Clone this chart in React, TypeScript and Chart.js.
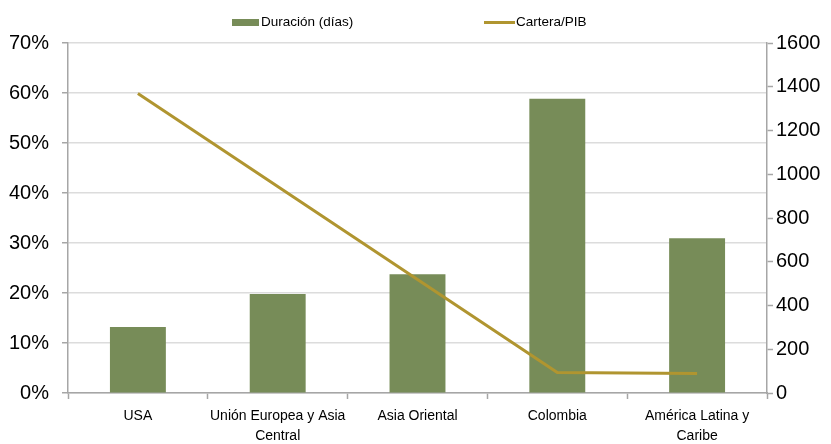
import React, { useEffect, useRef } from "react";
import { Chart, registerables } from "chart.js";

Chart.register(...registerables);

const categories: (string | string[])[] = [
  "USA",
  ["Unión Europea y Asia", "Central"],
  "Asia Oriental",
  "Colombia",
  ["América Latina y", "Caribe"],
];
const duracionDias: number[] = [302, 453, 543, 1345, 707];
const carteraPib: number[] = [59.9, 41.3, 22.7, 4.1, 3.9];
const leftTicksMax = 70;
const rightTicksMax = 1600;

const FONT = "'Liberation Sans Narrow', 'Arial Narrow', 'Liberation Sans', Arial, sans-serif";
const BAR_COLOR = "#778c58";
const LINE_COLOR = "#b09530";
const AXIS_COLOR = "#a6a6a6";
const GRID_COLOR = "#dcdcdc";

const legendPlugin = {
  id: "topLegend",
  afterDraw(chart: any) {
    const ctx = chart.ctx as CanvasRenderingContext2D;
    const ds = chart.data.datasets;
    ctx.save();
    ctx.font = `13.5px ${FONT}`;
    ctx.textBaseline = "middle";
    ctx.textAlign = "left";
    const y = 22.5;
    ctx.fillStyle = ds[0].backgroundColor;
    ctx.fillRect(232, y - 3.5, 27, 7);
    ctx.fillStyle = "#000";
    ctx.fillText(ds[0].label, 261, y);
    ctx.strokeStyle = ds[1].borderColor;
    ctx.lineWidth = 3;
    ctx.beginPath();
    ctx.moveTo(484, y);
    ctx.lineTo(515, y);
    ctx.stroke();
    ctx.fillStyle = "#000";
    ctx.fillText(ds[1].label, 516, y);
    ctx.restore();
  },
};

export default function App() {
  const ref = useRef<HTMLCanvasElement | null>(null);

  useEffect(() => {
    document.body.style.margin = "0";
    const canvas = ref.current;
    if (!canvas) return;
    const chart = new Chart(canvas, {
      type: "bar",
      data: {
        labels: categories as any,
        datasets: [
          {
            type: "bar",
            label: "Duración (días)",
            data: duracionDias,
            backgroundColor: BAR_COLOR,
            borderWidth: 0,
            yAxisID: "y1",
            categoryPercentage: 1,
            barPercentage: 0.4,
            order: 2,
          } as any,
          {
            type: "line",
            label: "Cartera/PIB",
            data: carteraPib,
            borderColor: LINE_COLOR,
            backgroundColor: LINE_COLOR,
            borderWidth: 3,
            pointRadius: 0,
            tension: 0,
            yAxisID: "y",
            order: 1,
          } as any,
        ],
      },
      options: {
        responsive: false,
        animation: false,
        layout: { padding: { top: 43, left: 0, right: 0, bottom: 0 } },
        plugins: {
          legend: { display: false },
          tooltip: { enabled: false },
        },
        scales: {
          x: {
            offset: true,
            grid: {
              offset: true,
              drawOnChartArea: false,
              drawTicks: true,
              tickLength: 6,
              tickColor: AXIS_COLOR,
              tickWidth: 1.5,
            },
            border: { color: AXIS_COLOR, width: 1.5 },
            ticks: {
              color: "#000",
              font: { family: FONT, size: 14, lineHeight: 1.42 },
              padding: 7,
              maxRotation: 0,
              autoSkip: false,
            },
            afterFit: (s: any) => {
              s.height = 51;
            },
          },
          y: {
            position: "left",
            min: 0,
            max: leftTicksMax,
            grid: {
              color: GRID_COLOR,
              lineWidth: 1.5,
              tickColor: AXIS_COLOR,
              tickLength: 6,
              tickWidth: 1.5,
            },
            border: { color: AXIS_COLOR, width: 1.5 },
            ticks: {
              stepSize: 10,
              color: "#000",
              padding: 13,
              font: { family: FONT, size: 20 },
              callback: (v: any) => `${v}%`,
            },
            afterFit: (s: any) => {
              s.width = 68;
            },
          },
          y1: {
            position: "right",
            min: 0,
            max: rightTicksMax,
            grid: {
              drawOnChartArea: false,
              tickColor: AXIS_COLOR,
              tickLength: 6,
              tickWidth: 1.5,
            },
            border: { color: AXIS_COLOR, width: 1.5 },
            ticks: {
              stepSize: 200,
              color: "#000",
              padding: 3,
              font: { family: FONT, size: 20 },
              callback: (v: any) => String(v),
            },
            afterFit: (s: any) => {
              s.width = 64;
            },
          },
        },
      },
      plugins: [legendPlugin],
    });
    return () => chart.destroy();
  }, []);

  return (
    <div style={{ width: 831, height: 444 }}>
      <canvas ref={ref} width={831} height={444} />
    </div>
  );
}
